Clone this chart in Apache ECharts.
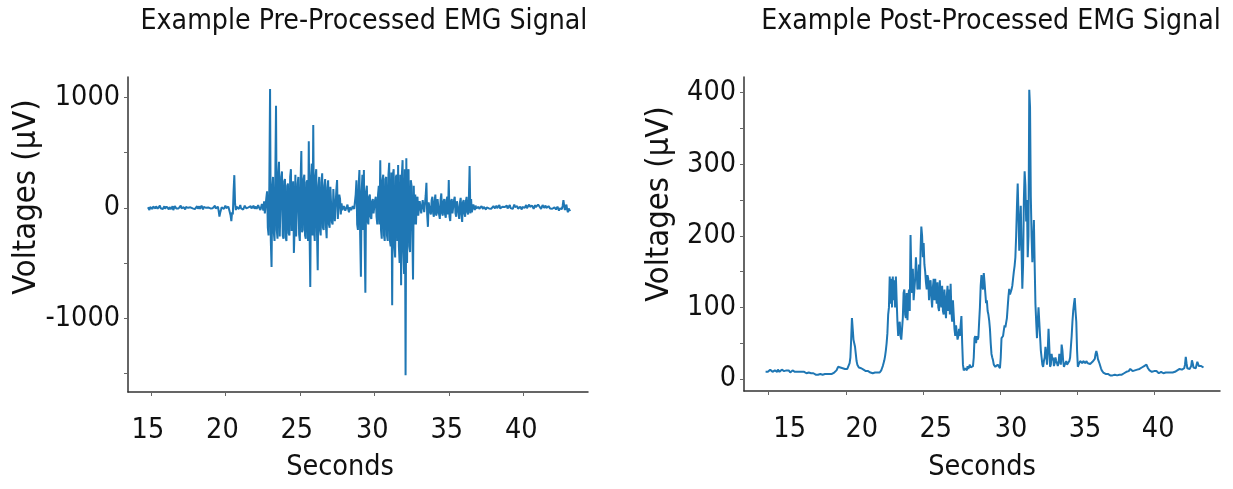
<!DOCTYPE html>
<html>
<head>
<meta charset="utf-8">
<script src="https://cdn.jsdelivr.net/npm/echarts@6/dist/echarts.min.js"></script>
<style>
  html, body { margin: 0; padding: 0; background: #ffffff; }
  #chart { width: 1233px; height: 489px; }
</style>
</head>
<body>
<div id="chart"></div>
<script>
// Recording starts at 14.8 s, one value every 0.05 s
const startTime = 14.8;
const sampleStep = 0.05;

// Raw EMG voltage (µV), one row per second
const rawSignal = [
  5, -12, -20, 8, 15, -6, -10, 12, 25, 3, -5, 14, 10, -8, -15, 6, 20, -4, 0, 9,
  -10, 6, 15, -9, -5, 12, 20, -3, -15, 7, 10, -12, 5, 14, -20, -2, 15, 8, -5, 11,
  10, -6, -10, 9, 20, -4, -5, 13, 5, -11, -15, 7, 15, -2, 0, 12, -10, 5, 20, -8,
  -5, 9, 10, -12, -20, 4, 15, -7, 5, 13, -10, -4, 20, 6, -15, 9, 10, -6, 0, 11,
  -15, 4, 15, -8, -5, 11, 10, -3, -10, 8, 20, -6, -5, 12, 10, -30, -80, -45, -20, 6,
  15, -4, -10, 8, 20, -2, -5, 9, 10, -15, -30, -70, -120, -40, -60, 150, 296, 40, -20, 10,
  15, -8, -10, 6, 25, -5, 5, 12, -15, -3, 20, 8, -5, -12, 10, 4, -10, 9, 15, -6,
  -5, 10, 20, -8, 0, 12, -10, -15, 25, 5, 10, -20, -15, 35, 30, -25, 60, -50, -40, 90,
  150, -180, -250, 200, 1076, -300, -535, 180, 280, -220, -300, 250, 925, -200, -280, 300, 417, -260, -250, 280,
  330, -250, -280, 240, 260, -270, -300, 200, 220, -230, -250, 280, 350, -210, -200, 240, -408, -180, 300, -260,
  -250, 220, 280, -240, -300, 250, 514, -220, -200, 260, 300, -250, -280, 230, 250, -300, 604, -200, -716, 280,
  400, -250, 750, -200, -300, 280, 350, -220, -565, 200, 280, -200, -250, 230, 312, -180, -200, 200, 260, -160,
  -275, 180, 250, -150, -180, 190, 200, -130, -150, 170, 180, -120, -120, 160, 251, -100, -100, 120, 80, -60,
  40, -20, -30, 15, 20, -25, -20, 10, 30, -15, -40, 5, 10, -20, -30, 15, 20, -10, -20, 120,
  250, -150, -200, 200, 342, -250, -625, 150, 300, -200, 342, -300, -770, 150, 200, -120, -150, 100, 120, -80,
  -100, 60, 80, -50, -60, 70, 100, -80, -150, 120, 200, -150, 432, -200, -280, 250, 300, -250, -300, 260,
  280, -250, -300, 300, 408, -300, -350, 320, -882, 300, 350, -350, -450, 280, 300, -300, 387, -350, -500, 300,
  -700, 300, 432, -400, -600, 350, -1517, 448, -500, 300, 350, -350, -400, 250, 200, -200, -650, 200, -150, 120,
  -150, 80, 100, -70, -80, 60, 60, -50, -60, 70, 80, -40, -50, 110, 227, -60, -172, 50, 60, -40,
  -60, 70, 100, -50, -80, 60, 120, -70, -50, 80, 90, -60, -100, 70, 130, -50, -70, 60, 80, -60,
  -90, 70, 100, -60, 251, -80, -120, 60, 80, -50, -60, 70, 100, -50, -80, 60, 60, -40, -100, 50,
  90, -60, -127, 50, 70, -50, -80, 60, 100, -40, -60, 80, 378, -50, 80, -40, -50, 30, 40, -20,
  20, -5, -15, 8, 10, -10, -20, 6, 15, -3, -10, 9, 5, -8, -15, 4, 20, -6, -5, 10,
  10, -8, -20, 5, 15, -2, -5, 12, 20, -4, -10, 8, 25, -6, -15, 9, 10, -3, 0, 7,
  -10, 6, 20, -5, -15, 10, 25, -2, 5, 14, -10, 3, 30, 8, -5, 12, 15, -8, -20, 4,
  10, -4, -15, 8, 20, 5, 0, 12, 25, -3, -10, 15, 30, 10, 5, 18, 20, 2, -10, 8,
  25, 6, -5, 14, 30, 12, 10, 20, -10, 4, 25, 10, 0, 15, 20, -2, -15, 5, 15, 0,
  -5, 4, 10, -8, -20, -3, 5, -6, -15, 2, 10, -8, -25, -5, 0, -12, -10, 20, 70, 20,
  -20, 5, 30, -15, -40, -5, -10, -30
];

// Rectified and smoothed EMG envelope (µV), one row per second
const processedSignal = [
  10, 11, 12, 10, 9, 11, 13, 12, 11, 10, 10, 11, 12, 12, 11, 10, 13, 12, 10, 11,
  12, 13, 14, 12, 11, 12, 13, 12, 10, 11, 12, 11, 9, 10, 11, 12, 12, 11, 10, 10,
  11, 10, 9, 10, 10, 11, 12, 10, 8, 9, 10, 9, 9, 8, 7, 8, 9, 8, 8, 8,
  7, 7, 8, 7, 6, 6, 7, 7, 6, 7, 8, 7, 7, 6, 6, 6, 7, 7, 6, 6,
  7, 7, 6, 7, 8, 8, 7, 8, 9, 9, 10, 11, 12, 14, 17, 18, 16, 16, 17, 16,
  15, 15, 14, 14, 13, 14, 14, 15, 16, 22, 30, 55, 85, 70, 55, 50, 45, 35, 25, 20,
  18, 16, 14, 15, 15, 14, 13, 13, 12, 12, 11, 12, 12, 11, 10, 10, 9, 9, 8, 8,
  7, 8, 9, 8, 8, 9, 10, 9, 9, 10, 12, 15, 18, 22, 26, 32, 40, 50, 64, 90,
  100, 143, 105, 140, 100, 143, 110, 138, 100, 143, 110, 80, 60, 75, 80, 60, 55, 70, 85, 120,
  125, 90, 85, 120, 82, 110, 125, 95, 201, 150, 120, 154, 110, 125, 140, 170, 150, 125, 130, 160,
  125, 180, 213, 200, 170, 190, 160, 150, 135, 125, 145, 140, 110, 130, 138, 115, 100, 128, 140, 110,
  140, 120, 105, 135, 100, 95, 138, 110, 100, 130, 95, 90, 125, 100, 85, 115, 130, 95, 125, 90,
  133, 95, 80, 110, 90, 70, 60, 75, 65, 55, 60, 70, 60, 75, 88, 50, 20, 12, 14, 15,
  15, 12, 18, 14, 12, 20, 16, 14, 15, 18, 30, 57, 60, 50, 60, 55, 58, 80, 100, 130,
  145, 130, 125, 148, 135, 120, 106, 110, 95, 90, 82, 70, 50, 35, 30, 26, 20, 18, 17, 19,
  17, 20, 22, 18, 15, 30, 57, 55, 60, 68, 75, 72, 70, 85, 100, 115, 126, 118, 120, 125,
  130, 140, 150, 158, 170, 200, 240, 273, 230, 179, 210, 242, 180, 126, 160, 250, 290, 270, 220, 250,
  170, 200, 404, 380, 255, 200, 163, 190, 222, 160, 105, 80, 57, 80, 100, 80, 60, 40, 30, 20,
  17, 25, 30, 45, 35, 20, 40, 70, 45, 17, 20, 35, 26, 30, 18, 22, 30, 25, 22, 18,
  22, 35, 30, 20, 48, 40, 25, 17, 20, 22, 25, 20, 18, 22, 25, 30, 45, 60, 80, 95,
  105, 113, 95, 80, 40, 17, 20, 22, 25, 24, 23, 22, 25, 24, 23, 22, 25, 23, 22, 24,
  22, 21, 20, 22, 24, 23, 22, 28, 35, 39, 35, 28, 25, 22, 20, 15, 12, 10, 9, 8,
  8, 7, 6, 6, 7, 6, 5, 5, 6, 5, 5, 6, 7, 6, 6, 5, 5, 6, 6, 6,
  7, 7, 6, 6, 7, 8, 8, 9, 10, 9, 9, 11, 12, 14, 16, 13, 11, 11, 12, 12,
  12, 12, 13, 13, 14, 14, 15, 16, 16, 17, 17, 18, 18, 19, 20, 18, 15, 13, 12, 11,
  10, 10, 9, 10, 11, 12, 12, 11, 10, 9, 8, 9, 9, 10, 10, 9, 8, 8, 9, 9,
  10, 10, 9, 9, 10, 9, 8, 8, 9, 9, 10, 10, 11, 11, 12, 12, 14, 14, 15, 14,
  13, 13, 14, 15, 20, 31, 22, 15, 15, 14, 14, 16, 18, 26, 22, 16, 16, 15, 15, 20,
  24, 22, 18, 19, 20, 18, 16, 17, 16
];

// Axis ticks and labels
const secondTicks = [15, 20, 25, 30, 35, 40];
const rawTicks = [-1500, -1000, -500, 0, 500, 1000];
const rawLabels = [-1000, 0, 1000];
const processedTicks = [0, 50, 100, 150, 200, 250, 300, 350, 400];
const processedLabels = [0, 100, 200, 300, 400];

const titles = ['Example Pre-Processed EMG Signal', 'Example Post-Processed EMG Signal'];
const xName = 'Seconds';
const yName = 'Voltages (µV)';

function withTime(values) {
  return values.map((v, i) => [+(startTime + i * sampleStep).toFixed(3), v]);
}

const FONT = '"DejaVu Sans Condensed", "DejaVu Sans"';
const TEXT = '#111111';
const lineColor = '#1f77b4';
const FS = 28.5;

// Horizontal nudge (px) of each seconds label away from its tick
function secondsLabel(nudges) {
  const rich = {};
  nudges.forEach((dx, k) => {
    rich['s' + k] = {
      fontFamily: FONT, fontSize: FS, color: TEXT,
      padding: dx >= 0 ? [0, 0, 0, 2 * dx] : [0, -2 * dx, 0, 0]
    };
  });
  return {
    customValues: secondTicks, margin: 24,
    fontFamily: FONT, fontSize: FS, color: TEXT,
    formatter: v => '{s' + secondTicks.indexOf(v) + '|' + v + '}',
    rich
  };
}

function xAxisFor(gridIndex, min, max, nudges) {
  return {
    type: 'value', gridIndex, min, max,
    axisLine: { show: true, onZero: false, lineStyle: { color: '#333', width: 1.5 } },
    axisTick: { show: true, customValues: secondTicks, length: 4, lineStyle: { color: '#666' } },
    axisLabel: secondsLabel(nudges),
    splitLine: { show: false }
  };
}

function yAxisFor(gridIndex, min, max, ticks, labels) {
  return {
    type: 'value', gridIndex, min, max,
    axisLine: { show: true, onZero: false, lineStyle: { color: '#333', width: 1.5 } },
    axisTick: { show: true, customValues: ticks, length: 4, lineStyle: { color: '#666' } },
    axisLabel: {
      customValues: labels, margin: 8,
      fontFamily: FONT, fontSize: FS, color: TEXT,
      formatter: v => String(v)
    },
    splitLine: { show: false }
  };
}

function axisName(text, x, y, vertical) {
  return {
    type: 'text', x, y, rotation: vertical ? Math.PI / 2 : 0,
    style: {
      text, fontFamily: FONT, fontSize: vertical ? 32.5 : FS, fill: TEXT,
      align: 'center', verticalAlign: 'middle'
    }
  };
}

const chart = echarts.init(document.getElementById('chart'), null, { renderer: 'canvas' });

chart.setOption({
  animation: false,
  backgroundColor: '#ffffff',
  title: [
    { text: titles[0], left: 359, top: 3, textAlign: 'center',
      textStyle: { fontFamily: FONT, fontSize: 28.2, fontWeight: 'normal', color: TEXT } },
    { text: titles[1], left: 986, top: 3, textAlign: 'center',
      textStyle: { fontFamily: FONT, fontSize: 28.2, fontWeight: 'normal', color: TEXT } }
  ],
  grid: [
    { left: 128, top: 77, width: 460, height: 315 },
    { left: 744, top: 77, width: 476, height: 314 }
  ],
  xAxis: [
    xAxisFor(0, 13.46, 44.35, [-3, -3, -3, -2, -2, -2]),
    xAxisFor(1, 13.40, 44.27, [21, 16, 13, 11, 8, 4])
  ],
  yAxis: [
    yAxisFor(0, -1668, 1185, rawTicks, rawLabels),
    yAxisFor(1, -16.8, 421.8, processedTicks, processedLabels)
  ],
  graphic: [
    axisName(yName, 27, 197, true),
    axisName(yName, 660, 204, true),
    axisName(xName, 340, 468, false),
    axisName(xName, 982, 468, false)
  ],
  series: [
    {
      type: 'line', xAxisIndex: 0, yAxisIndex: 0,
      data: withTime(rawSignal),
      showSymbol: false, symbol: 'none',
      lineStyle: { color: lineColor, width: 2 }
    },
    {
      type: 'line', xAxisIndex: 1, yAxisIndex: 1,
      data: withTime(processedSignal),
      showSymbol: false, symbol: 'none',
      lineStyle: { color: lineColor, width: 2 }
    }
  ]
});
</script>
</body>
</html>
